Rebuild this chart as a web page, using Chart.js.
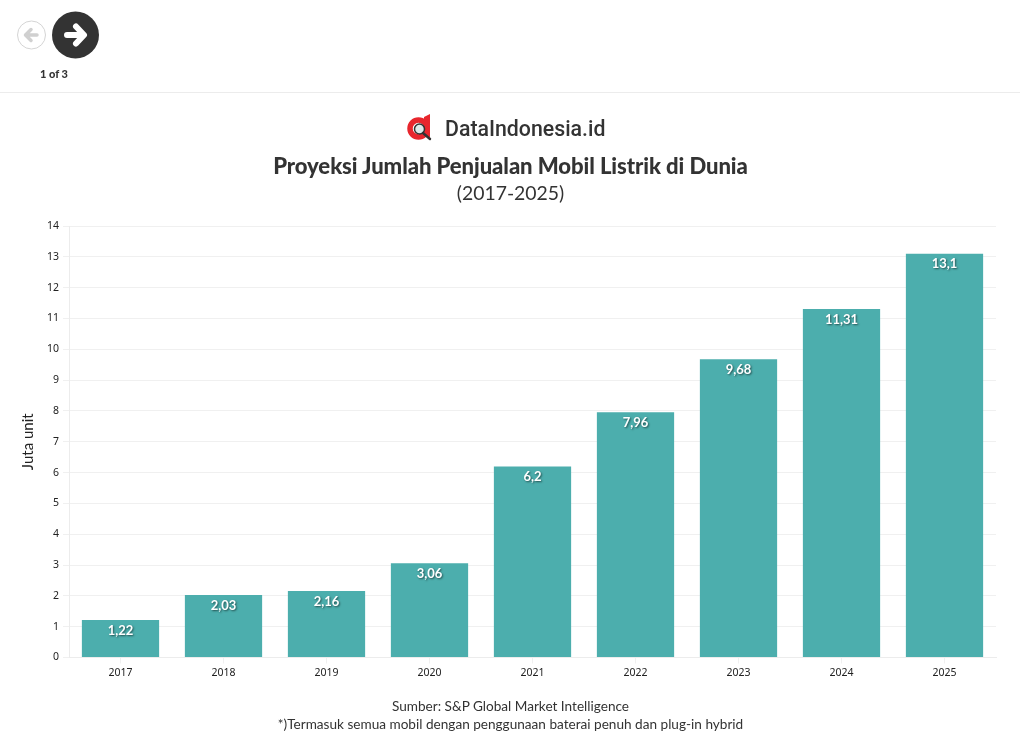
<!DOCTYPE html>
<html>
<head>
<meta charset="utf-8">
<title>Proyeksi Jumlah Penjualan Mobil Listrik di Dunia</title>
<script src="https://cdn.jsdelivr.net/npm/chart.js@4"></script>
<style>
    html, body { margin: 0; padding: 0; background: #fff; }
    body { width: 1020px; height: 743px; position: relative; overflow: hidden; font-family: Lato, "Noto Sans", sans-serif; color: #333; }
    #wrap { position: absolute; left: 0; top: 0; width: 1020px; height: 743px; }
    .abs { position: absolute; white-space: nowrap; }
    .center { left: 0; width: 1021px; text-align: center; }
    .rule { position: absolute; left: 0; top: 92px; width: 1020px; height: 1px; background: #ececec; }
</style>
</head>
<body>
<div id="wrap"><canvas id="myChart" width="1020" height="743"></canvas></div>

<!-- nav buttons -->
<svg class="abs" style="left:0;top:0" width="110" height="64">
    <circle cx="31.5" cy="35" r="14" fill="#fff" stroke="#d4d4d4"/>
    <path d="M37 35H26M31 29.5L25.5 35L31 40.5" fill="none" stroke="#d0d0d0" stroke-width="3.5" stroke-linecap="round" stroke-linejoin="round"/>
    <circle cx="75.5" cy="35" r="23.5" fill="#333"/>
    <path d="M67 35H83M76 26.5L84 35L76 43.5" fill="none" stroke="#fff" stroke-width="6" stroke-linecap="round" stroke-linejoin="round"/>
</svg>
<div class="abs" style="left:40px;top:67px;font-size:11px;font-weight:900;">1 of 3</div>
<div class="rule"></div>

<!-- logo -->
<svg class="abs" style="left:405px;top:112px" width="30" height="32">
    <circle cx="13.5" cy="16.5" r="8.5" fill="none" stroke="#e8262d" stroke-width="5.5"/>
    <path d="M19 5L25 2V25H19Z" fill="#e8262d"/>
    <circle cx="14.5" cy="17" r="5" fill="#dfeaea" stroke="#333" stroke-width="1.5"/>
    <path d="M18 21L25 27" stroke="#333" stroke-width="2.5" stroke-linecap="round"/>
</svg>
<div class="abs" style="left:445px;top:116px;font-family:Roboto,sans-serif;font-size:21.3px;font-weight:500;color:#333;">DataIndonesia.id</div>

<div class="abs center" style="top:152px;font-size:22.1px;font-weight:900;letter-spacing:-0.08px;">Proyeksi Jumlah Penjualan Mobil Listrik di Dunia</div>
<div class="abs center" style="top:181px;font-size:19.4px;">(2017-2025)</div>

<div class="abs center" style="top:698px;font-size:13.6px;">Sumber: S&amp;P Global Market Intelligence</div>
<div class="abs center" style="top:716px;font-size:13.6px;">*)Termasuk semua mobil dengan penggunaan baterai penuh dan plug-in hybrid</div>

<script>
// data
var years = ['2017', '2018', '2019', '2020', '2021', '2022', '2023', '2024', '2025'];
var penjualan = [1.22, 2.03, 2.16, 3.06, 6.2, 7.96, 9.68, 11.31, 13.1];
var labelTeks = ['1,22', '2,03', '2,16', '3,06', '6,2', '7,96', '9,68', '11,31', '13,1'];

var fontName = 'Lato, "Noto Sans", sans-serif';
var tickFont = '"Noto Sans", sans-serif';

// value labels sit inside the top of each bar
var barLabels = {
    id: 'barLabels',
    afterDatasetsDraw: function(chart) {
        var ctx = chart.ctx;
        var bars = chart.getDatasetMeta(0).data;
        ctx.save();
        ctx.font = '700 13px ' + fontName;
        ctx.textAlign = 'center';
        ctx.textBaseline = 'middle';
        ctx.fillStyle = '#fff';
        ctx.shadowColor = 'rgba(0,0,0,0.55)';
        ctx.shadowBlur = 2;
        ctx.shadowOffsetX = 1;
        ctx.shadowOffsetY = 1;
        bars.forEach(function(bar, i) {
            ctx.fillText(labelTeks[i], bar.x, bar.y + 10.5);
        });
        ctx.restore();
    }
};

var ctx = document.getElementById('myChart').getContext('2d');

var myChart = new Chart(ctx, {
    type: 'bar',
    data: {
        labels: years,
        datasets: [{
            label: 'Juta unit',
            data: penjualan,
            backgroundColor: '#4caead',
            barPercentage: 0.75,
            categoryPercentage: 1
        }]
    },
    plugins: [barLabels],
    options: {
        responsive: false,
        animation: false,
        layout: { padding: { left: 19, top: 226, right: 24, bottom: 0 } },
        plugins: {
            legend: { display: false },
            tooltip: { enabled: false }
        },
        scales: {
            x: {
                afterFit: function(axis) { axis.height = 85.5; },
                grid: { color: '#f0f0f0', offset: false, drawOnChartArea: false, tickLength: 6 },
                border: { color: '#ececec' },
                ticks: { color: '#222', padding: 3.5, maxRotation: 0, font: { family: tickFont, size: 10.5 } }
            },
            y: {
                min: 0,
                max: 14,
                afterFit: function(axis) { axis.width = 50; },
                grid: { color: '#f0f0f0', tickLength: 6 },
                border: { color: '#ececec' },
                ticks: { color: '#222', stepSize: 1, padding: 4, font: { family: tickFont, size: 10.5 } },
                title: { display: true, text: 'Juta unit', color: '#222', padding: 0, font: { family: fontName, size: 15 } }
            }
        }
    }
});
</script>
</body>
</html>
